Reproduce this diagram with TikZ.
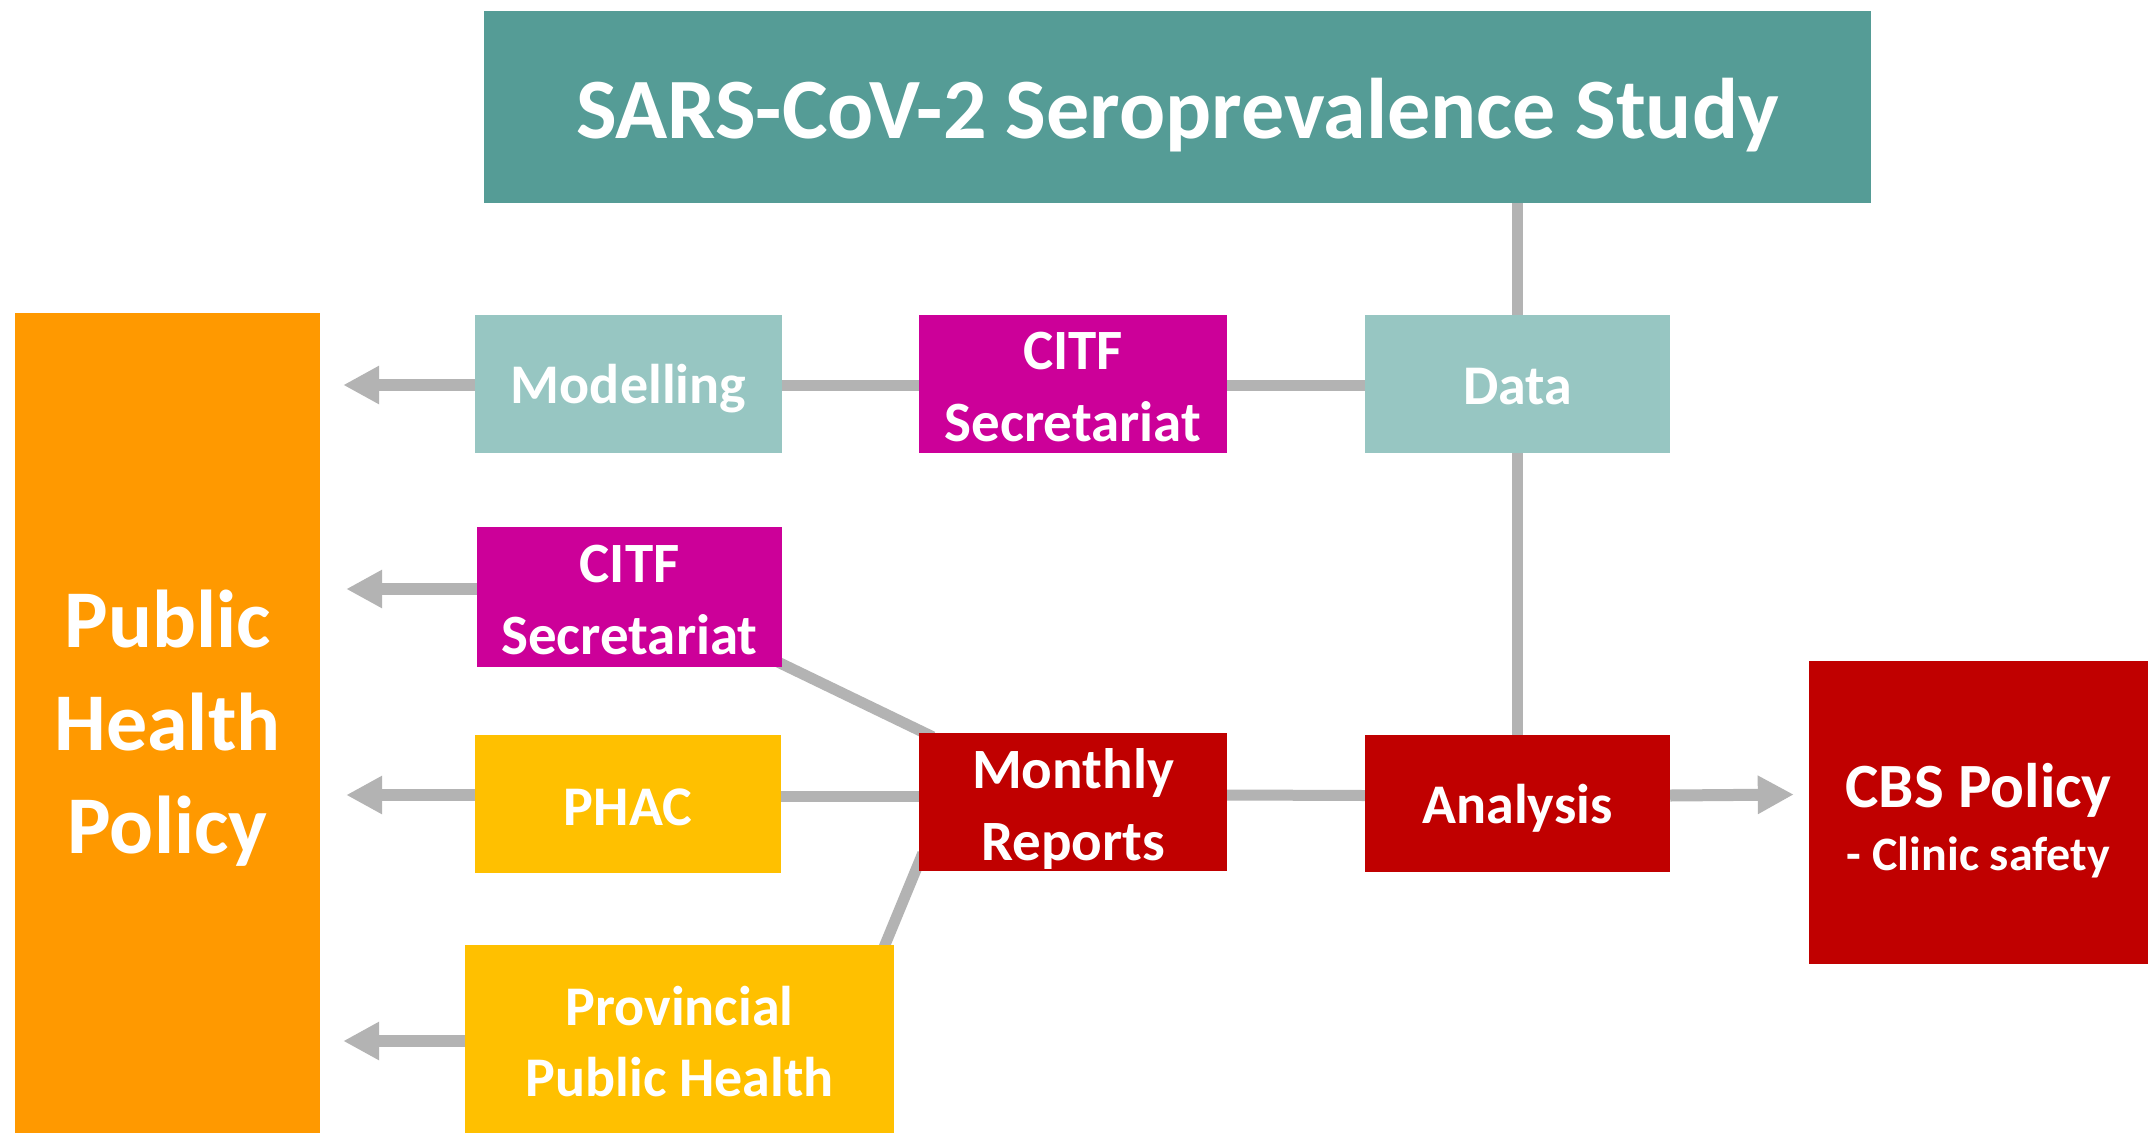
\documentclass[tikz,border=0pt]{standalone}
\usepackage{fontspec}
\setmainfont{Carlito}
\usetikzlibrary{arrows.meta,calc,backgrounds}

\definecolor{titleteal}{HTML}{559C96}
\definecolor{paleteal}{HTML}{97C6C2}
\definecolor{citfpink}{HTML}{CC0099}
\definecolor{reportred}{HTML}{C00000}
\definecolor{provgold}{HTML}{FFC000}
\definecolor{policyorange}{HTML}{FF9900}
\definecolor{linkgray}{HTML}{B3B3B3}

\newcommand{\fsz}[2]{\fontsize{#1}{#2}\selectfont}

\tikzset{
  box/.style={rectangle, inner sep=0pt},
  boxtext/.style={inner sep=0pt, align=center, text=white, yshift=-5pt},
  link/.style={draw=linkgray, line width=11pt},
  feed/.style={draw=linkgray, line width=12pt, -{Triangle[length=36pt,width=36pt]}},
}

\begin{document}
\begin{tikzpicture}[x=1pt,y=-1pt]
  \useasboundingbox (0,0) rectangle (2148,1133);

  % boxes
  \node[box, fill=titleteal, minimum width=1387pt, minimum height=192pt,
        label={[boxtext, yshift=-3pt, font=\bfseries\fsz{86}{100}]center:SARS-CoV-2 Seroprevalence Study}] (title) at (1177.5,107) {};
  \node[box, fill=policyorange, minimum width=305pt, minimum height=820pt,
        label={[boxtext, font=\bfseries\fsz{82}{103}]center:{Public\\Health\\Policy}}] (php) at (167.5,723) {};

  \node[box, fill=paleteal, minimum width=307pt, minimum height=138pt,
        label={[boxtext, font=\bfseries\fsz{56}{70}]center:Modelling}] (modelling) at (628.5,384) {};
  \node[box, fill=citfpink, minimum width=308pt, minimum height=138pt,
        label={[boxtext, yshift=2pt, font=\bfseries\fsz{57}{72}]center:{CITF\\Secretariat}}] (citfa) at (1073,384) {};
  \node[box, fill=paleteal, minimum width=305pt, minimum height=138pt,
        label={[boxtext, yshift=2pt, font=\bfseries\fsz{56}{70}]center:Data}] (data) at (1517.5,384) {};

  \node[box, fill=citfpink, minimum width=305pt, minimum height=140pt,
        label={[boxtext, yshift=2pt, font=\bfseries\fsz{57}{72}]center:{CITF\\Secretariat}}] (citfb) at (629.5,597) {};

  \node[box, fill=provgold, minimum width=306pt, minimum height=138pt,
        label={[boxtext, yshift=2pt, font=\bfseries\fsz{56}{70}]center:PHAC}] (phac) at (628,804) {};
  \node[box, fill=reportred, minimum width=308pt, minimum height=138pt,
        label={[boxtext, yshift=-2pt, font=\bfseries\fsz{57}{72}]center:{Monthly\\Reports}}] (monthly) at (1073,802) {};
  \node[box, fill=reportred, minimum width=305pt, minimum height=137pt,
        label={[boxtext, font=\bfseries\fsz{56}{70}]center:Analysis}] (analysis) at (1517.5,803.5) {};

  \node[box, fill=reportred, minimum width=339pt, minimum height=303pt,
        label={[boxtext, yshift=-3pt, font=\bfseries]center:{{\fsz{63}{76}CBS Policy}\\[18pt]{\fsz{48}{58}- Clinic safety}}}] (cbs) at (1978.5,812.5) {};

  \node[box, fill=provgold, minimum width=429pt, minimum height=188pt,
        label={[boxtext, yshift=2pt, font=\bfseries\fsz{56}{71}]center:{Provincial\\Public Health}}] (prov) at (679.5,1039) {};

  % arrow tips in front of the policy column
  \coordinate (tipa) at ($(php.east |- modelling.west)+(23,1)$);
  \coordinate (tipb) at ($(php.east |- citfb.west)+(26,-8)$);
  \coordinate (tipc) at ($(php.east |- phac.west)+(26,-9)$);
  \coordinate (tipd) at ($(php.east |- prov.west)+(23,2)$);
  \coordinate (tipe) at ($(cbs.west |- analysis.east)+(-15,-9)$);

  \begin{scope}[on background layer]
    \fill[white] (0,0) rectangle (2148,1133);
    % study feeds data, data feeds analysis
    \draw[link] (data.north |- title.south) -- (data.north);
    \draw[link] (data.south) -- (analysis.north);
    % upper row
    \draw[link] ($(modelling.east)+(0,1)$) -- ($(citfa.west)+(0,1)$);
    \draw[link] ($(citfa.east)+(0,1)$) -- ($(data.west)+(0,1)$);
    % monthly reports row
    \draw[link] ($(phac.east)+(0,-8)$) -- ($(monthly.west)+(0,-6)$);
    \draw[link] ($(monthly.east)+(0,-7)$) -- ($(analysis.west)+(0,-8)$);
    \draw[link] ($(citfb.south east)+(-6,-6)$) -- ($(monthly.north west)+(14,4)$);
    \draw[link] ($(monthly.south west)+(4,-18)$) -- ($(prov.north east)+(-10,2)$);
  \end{scope}

  % arrows into the policy column and out to CBS policy
  \draw[feed] ($(modelling.west)+(0,1)$) -- (tipa);
  \draw[feed] ($(citfb.west)+(0,-8)$) -- (tipb);
  \draw[feed] ($(phac.west)+(0,-9)$) -- (tipc);
  \draw[feed] ($(prov.west)+(0,2)$) -- (tipd);
  \draw[feed] ($(analysis.east)+(0,-8)$) -- (tipe);
\end{tikzpicture}
\end{document}
